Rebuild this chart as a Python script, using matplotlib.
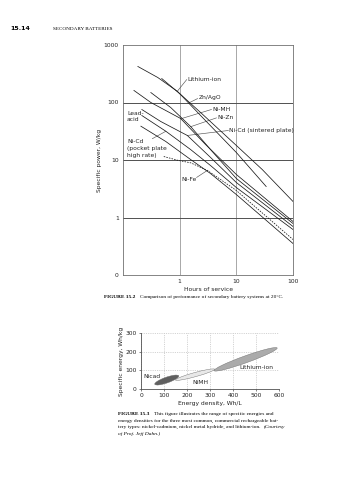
import math

import matplotlib
matplotlib.use("Agg")
import matplotlib.pyplot as plt
from matplotlib.patches import Ellipse
from matplotlib.text import Annotation
from matplotlib.ticker import FixedLocator, FixedFormatter, NullLocator

# ---- Figure 15.2 data: specific power (W/kg) vs hours of service ----
li_ion_h = [0.183, 0.411, 0.922, 2.34, 10, 33.6]
li_ion_w = [423, 272, 155, 59.4, 13.5, 3.46]
znago_h = [0.483, 1.04, 2.34, 10, 28.6, 100]
znago_w = [261, 138, 67.0, 17.9, 6.84, 1.90]
nimh_h = [0.156, 0.310, 1.04, 2.86, 10, 100]
nimh_w = [162, 100, 52.7, 18.6, 5.60, 0.852]
nizn_h = [0.310, 0.695, 1.56, 3.50, 10, 100]
nizn_w = [149, 81.8, 38.3, 15.2, 4.77, 0.787]
nicd_sint_h = [0.215, 0.464, 1.365, 3.50, 10, 100]
nicd_sint_w = [75.5, 46.7, 26.7, 11.1, 4.06, 0.697]
lead_h = [0.215, 0.568, 1.56, 3.50, 10, 100]
lead_w = [59.4, 31.7, 15.2, 8.02, 3.32, 0.618]
nicd_pock_h = [0.207, 0.568, 1.56, 3.50, 10, 100]
nicd_pock_w = [38.7, 21.0, 10.2, 5.82, 2.51, 0.353]
nife_h = [0.524, 0.960, 1.56, 3.10, 10, 100]
nife_w = [11.5, 9.80, 8.94, 6.57, 2.95, 0.414]

hour_ticks = [1, 10, 100]
hour_labels = ["1", "10", "100"]
power_ticks = [0.1, 1, 10, 100, 1000]
power_labels = ["0", "1", "10", "100", "1000"]

# ---- Figure 15.3 data: ranges (ellipses) of energy density vs specific energy ----
cells = ["Nicad", "NiMH", "Lithium-ion"]
cell_start = [(60, 25), (150, 48), (318, 98)]
cell_end = [(164, 71), (320, 106), (592, 220)]
cell_thick = [30, 22, 36]
cell_colors = ["#606060", "#e8e8e8", "#ababab"]

fig = plt.figure(figsize=(3.58, 4.8), dpi=100)
fs = 4.3
capfs = 3.85
serif = "Liberation Serif"


def caption(x_px, y_px, head, body):
    # bold figure number, body text placed right after it
    t = fig.text(x_px / 358, 1 - y_px / 480, head, fontsize=capfs, fontweight="bold",
                 family=serif, va="center")
    fig.add_artist(Annotation(body, xy=(1, 0.5), xycoords=t, xytext=(3.5, 0),
                              textcoords="offset points", va="center",
                              fontsize=capfs, family=serif))


# page header
fig.text(10 / 358, 1 - 29 / 480, "15.14", fontsize=4.5, fontweight="bold", va="center")
fig.text(53 / 358, 1 - 29 / 480, "SECONDARY BATTERIES", fontsize=3.7,
         family=serif, va="center")

# ---------------- top chart ----------------
ax = fig.add_axes([123 / 358, 1 - 275 / 480, 170 / 358, 230 / 480])
ax.set_xscale("log")
ax.set_yscale("log")
ax.set_xlim(0.1, 100)
ax.set_ylim(0.1, 1000)

for v in [1, 10]:
    ax.axvline(v, color="#9a9a9a", lw=0.6, zorder=1)
for v in [1, 10, 100]:
    ax.axhline(v, color="#505050", lw=0.7, zorder=1)

lk = dict(color="#1a1a1a", lw=0.55, zorder=3)
ax.plot(li_ion_h, li_ion_w, **lk)
ax.plot(znago_h, znago_w, **lk)
ax.plot(nimh_h, nimh_w, **lk)
ax.plot(nizn_h, nizn_w, **lk)
ax.plot(nicd_sint_h, nicd_sint_w, **lk)
ax.plot(lead_h, lead_w, **lk)
ax.plot(nicd_pock_h, nicd_pock_w, **lk)
ax.plot(nife_h, nife_w, color="#1a1a1a", lw=0.55, ls=(0, (2, 1.5)), zorder=3)

lead = dict(color="#555555", lw=0.45, zorder=2)
tk = dict(fontsize=fs, va="center", color="#222222")
ax.text(1.38, 255, "Lithium-ion", **tk)
ax.plot([1.33, 0.91], [250, 157], **lead)
ax.text(2.15, 124, "Zn/AgO", **tk)
ax.plot([2.07, 1.46], [117, 98.6], **lead)
ax.text(3.8, 77, "Ni-MH", **tk)
ax.plot([3.64, 1.04], [75.6, 52], **lead)
ax.text(4.55, 54, "Ni-Zn", **tk)
ax.plot([4.45, 1.56], [54, 37.9], **lead)
ax.text(7.5, 32.6, "Ni-Cd (sintered plate)", **tk)
ax.plot([7.25, 1.36], [32.6, 26.7], **lead)
ax.text(0.118, 57, "Lead-\nacid", fontsize=fs, va="center", color="#222222",
        linespacing=1.45)
ax.text(0.118, 15.8, "Ni-Cd\n(pocket plate\nhigh rate)", fontsize=fs, va="center",
        color="#222222", linespacing=1.45)
ax.plot([0.33, 0.57], [23.5, 31.6], **lead)
ax.text(1.08, 4.6, "Ni-Fe", **tk)
ax.plot([1.99, 3.06], [4.97, 6.56], **lead)

ax.xaxis.set_major_locator(FixedLocator(hour_ticks))
ax.xaxis.set_major_formatter(FixedFormatter(hour_labels))
ax.yaxis.set_major_locator(FixedLocator(power_ticks))
ax.yaxis.set_major_formatter(FixedFormatter(power_labels))
ax.xaxis.set_minor_locator(NullLocator())
ax.yaxis.set_minor_locator(NullLocator())
ax.tick_params(labelsize=fs, length=0, pad=3, colors="#222222")
for s in ax.spines.values():
    s.set_color("#707070")
    s.set_linewidth(0.6)
ax.set_xlabel("Hours of service", fontsize=fs, labelpad=2, color="#222222")
ax.set_ylabel("Specific power, W/kg", fontsize=fs, labelpad=1, color="#222222")

caption(104, 297, "FIGURE 15.2",
        "Comparison of performance of secondary battery systems at 20\u00b0C.")

# ---------------- bottom chart ----------------
bx = fig.add_axes([141 / 358, 1 - 389 / 480, 138 / 358, 56 / 480])
bx.set_xlim(0, 600)
bx.set_ylim(0, 300)
bx.set_xticks(range(0, 601, 100))
bx.set_yticks(range(0, 301, 100))
bx.grid(True, color="#b0b0b0", lw=0.4, ls=(0, (2, 2)))
bx.set_axisbelow(True)

for name, p0, p1, th, col in zip(cells, cell_start, cell_end, cell_thick, cell_colors):
    cx = (p0[0] + p1[0]) / 2
    cy = (p0[1] + p1[1]) / 2
    dx = p1[0] - p0[0]
    dy = p1[1] - p0[1]
    length = math.hypot(dx, dy)
    ang = math.degrees(math.atan2(dy, dx))
    bx.add_patch(Ellipse((cx, cy), length, th, angle=ang, facecolor=col,
                         edgecolor="#6a6a6a", lw=0.3, zorder=3))

bx.text(10, 66, "Nicad", fontsize=fs, va="center", color="#222222")
bx.text(256, 34, "NiMH", fontsize=fs, va="center", ha="center", color="#222222")
bx.text(500, 116, "Lithium-ion", fontsize=fs, va="center", ha="center", color="#222222")

bx.tick_params(labelsize=fs, length=1.5, width=0.4, pad=1.5, colors="#222222")
bx.spines["top"].set_visible(False)
bx.spines["right"].set_visible(False)
for s in ["left", "bottom"]:
    bx.spines[s].set_color("#505050")
    bx.spines[s].set_linewidth(0.6)
bx.set_xlabel("Energy density, Wh/L", fontsize=fs, labelpad=2, color="#222222")
bx.set_ylabel("Specific energy, Wh/kg", fontsize=fs, labelpad=1, color="#222222")

cap_y = [414, 420.7, 427.3, 434]
caption(118, cap_y[0], "FIGURE 15.3",
        "This figure illustrates the range of specific energies and")
fig.text(118 / 358, 1 - cap_y[1] / 480,
         "energy densities for the three most common, commercial rechargeable bat-",
         fontsize=capfs, family=serif, va="center")
t3 = fig.text(118 / 358, 1 - cap_y[2] / 480,
              "tery types: nickel-cadmium, nickel metal hydride, and lithium-ion.",
              fontsize=capfs, family=serif, va="center")
fig.add_artist(Annotation("(Courtesy", xy=(1, 0.5), xycoords=t3, xytext=(2.5, 0),
                          textcoords="offset points", va="center", fontsize=capfs,
                          family=serif, style="italic"))
fig.text(118 / 358, 1 - cap_y[3] / 480, "of Prof. Jeff Dahn.)", fontsize=capfs,
         family=serif, style="italic", va="center")

fig.savefig("out.png", dpi=100)
